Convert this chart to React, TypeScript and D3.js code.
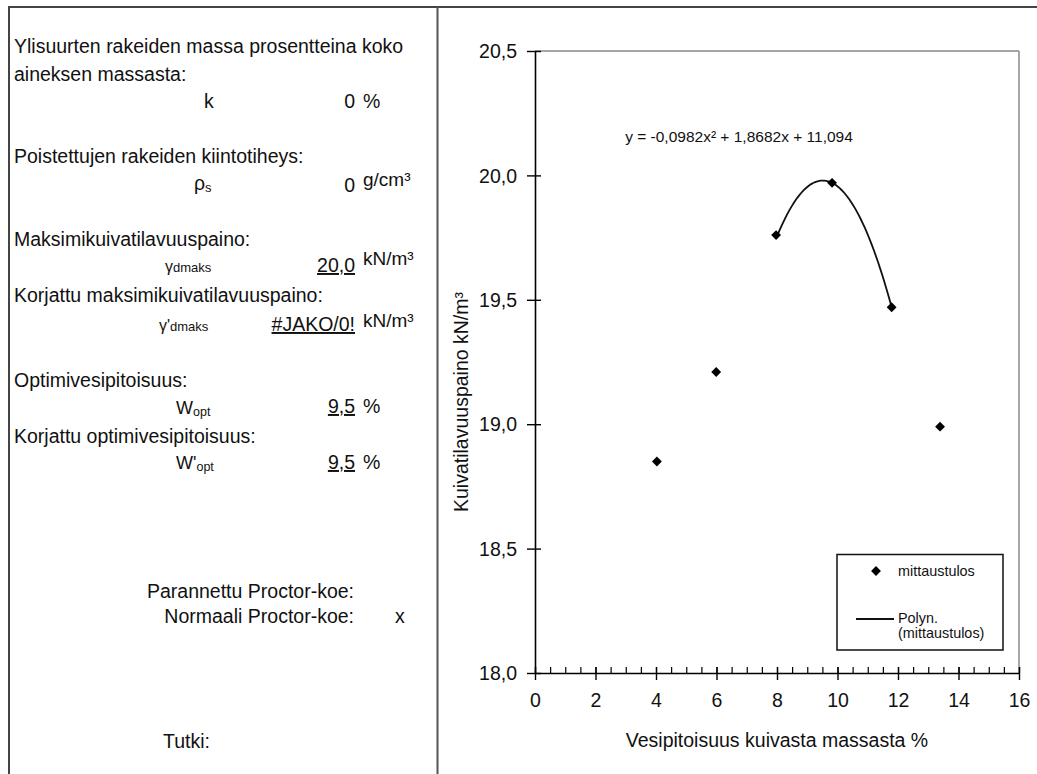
import React, { useEffect, useRef } from 'react';
import * as d3 from 'd3';

// measured points (water content %, dry density kN/m3)
const waterContent = [4.03, 5.99, 7.97, 9.82, 11.79, 13.39];
const dryDensity = [18.85, 19.21, 19.76, 19.97, 19.47, 18.99];

// polynomial trendline y = a x^2 + b x + c, fitted over these x values
const trendCoef = [-0.0982, 1.8682, 11.094];
const trendRange = [7.97, 11.79];
const equationText = 'y = -0,0982x² + 1,8682x + 11,094';

const xTicks = [0, 2, 4, 6, 8, 10, 12, 14, 16];
const xMinorTicks = d3.range(0, 16.01, 0.5);
const yTicks = [18.0, 18.5, 19.0, 19.5, 20.0, 20.5];

const seriesName = 'mittaustulos';
const trendName = ['Polyn.', '(mittaustulos)'];
const xTitle = 'Vesipitoisuus kuivasta massasta %';
const yTitle = 'Kuivatilavuuspaino kN/m³';

const FONT = '"Liberation Sans", Arial, sans-serif';
const W = 1037;
const H = 774;
const plot = { left: 535, right: 1019, top: 51, bottom: 673 };

const commaFmt = (d: number) => d3.format('.1f')(d).replace('.', ',');

const App = () => {
  const xAxisRef = useRef<SVGGElement>(null);
  const xMinorRef = useRef<SVGGElement>(null);
  const yAxisRef = useRef<SVGGElement>(null);

  const x = d3.scaleLinear().domain([0, 16]).range([plot.left, plot.right]);
  const y = d3.scaleLinear().domain([18, 20.5]).range([plot.bottom, plot.top]);

  useEffect(() => {
    // y axis with ticks crossing the line
    const yAxis = d3.axisLeft(y).tickValues(yTicks).tickFormat(commaFmt as any).tickSizeOuter(0);
    const gy = d3.select(yAxisRef.current!);
    gy.call(yAxis);
    gy.select('.domain').attr('stroke', '#000').attr('stroke-width', 1.6);
    gy.selectAll('.tick line').attr('x1', 6).attr('x2', -8).attr('stroke', '#000').attr('stroke-width', 1.4);
    gy.selectAll('.tick text')
      .attr('x', -18)
      .attr('dy', '0.34em')
      .attr('font-size', 19.5)
      .attr('font-family', FONT)
      .attr('fill', '#111');

    // minor x ticks pointing up
    const xMinor = d3.axisBottom(x).tickValues(xMinorTicks).tickFormat(() => '').tickSizeOuter(0);
    const gm = d3.select(xMinorRef.current!);
    gm.call(xMinor);
    gm.select('.domain').remove();
    gm.selectAll('.tick line').attr('y1', 0).attr('y2', -6).attr('stroke', '#000').attr('stroke-width', 1.2);

    // major x ticks crossing
    const xAxis = d3.axisBottom(x).tickValues(xTicks).tickFormat(d3.format('d') as any).tickSizeOuter(0);
    const gx = d3.select(xAxisRef.current!);
    gx.call(xAxis);
    gx.select('.domain').attr('stroke', '#000').attr('stroke-width', 1.6);
    gx.selectAll('.tick line').attr('y1', -6).attr('y2', 7).attr('stroke', '#000').attr('stroke-width', 1.4);
    gx.selectAll('.tick text')
      .attr('y', 20)
      .attr('dy', '0.71em')
      .attr('font-size', 19.5)
      .attr('font-family', FONT)
      .attr('fill', '#111');
  }, []);

  const points = waterContent.map((w, i) => [w, dryDensity[i]]);
  const trendX = d3.range(trendRange[0], trendRange[1] + 0.0001, (trendRange[1] - trendRange[0]) / 60);
  const trendPts = trendX.map(v => [v, trendCoef[0] * v * v + trendCoef[1] * v + trendCoef[2]]);
  const line = d3.line<number[]>().x(d => x(d[0])).y(d => y(d[1]));
  const diamond = d3.symbol().type(d3.symbolDiamond2).size(62)();

  const t = { fontFamily: FONT, fill: '#111' };
  const big = { ...t, fontSize: 19.5 };
  const unit = { ...t, fontSize: 19 };
  const ul = { textDecoration: 'underline' };

  return (
    <svg width={W} height={H} style={{ position: 'absolute', left: 0, top: 0, background: '#fff' }}>
      <rect x={0} y={0} width={W} height={H} fill="#fff" />
      {/* frame */}
      <line x1={8} x2={W} y1={7} y2={7} stroke="#444" strokeWidth={2} />
      <line x1={9} x2={9} y1={7} y2={H} stroke="#444" strokeWidth={2} />
      <line x1={437.5} x2={437.5} y1={7} y2={H} stroke="#555" strokeWidth={2} />

      {/* left panel */}
      <text x={14} y={53} style={big}>Ylisuurten rakeiden massa prosentteina koko</text>
      <text x={14} y={81} style={big}>aineksen massasta:</text>
      <text x={204} y={108} style={big}>k</text>
      <text x={355} y={108} textAnchor="end" style={big}>0</text>
      <text x={363} y={108} style={big}>%</text>

      <text x={14} y={163} style={big}>Poistettujen rakeiden kiintotiheys:</text>
      <text x={194} y={190} style={big}>ρ<tspan fontSize={13} dy={2}>s</tspan></text>
      <text x={355} y={192} textAnchor="end" style={big}>0</text>
      <text x={363} y={186} style={unit}>g/cm³</text>

      <text x={14} y={246} style={big}>Maksimikuivatilavuuspaino:</text>
      <text x={165} y={272} style={{ ...t, fontSize: 16 }}>γ<tspan fontSize={13}>dmaks</tspan></text>
      <text x={355} y={272} textAnchor="end" style={{ ...big, ...ul }}>20,0</text>
      <text x={363} y={265} style={unit}>kN/m³</text>

      <text x={14} y={301.5} style={big}>Korjattu maksimikuivatilavuuspaino:</text>
      <text x={159} y={331} style={{ ...t, fontSize: 16 }}>γ'<tspan fontSize={13}>dmaks</tspan></text>
      <text x={355} y={331} textAnchor="end" style={{ ...big, ...ul }}>#JAKO/0!</text>
      <text x={363} y={327} style={unit}>kN/m³</text>

      <text x={14} y={387} style={big}>Optimivesipitoisuus:</text>
      <text x={176} y={414} style={{ ...t, fontSize: 18 }}>W<tspan fontSize={12.5} dy={2}>opt</tspan></text>
      <text x={355} y={413} textAnchor="end" style={{ ...big, ...ul }}>9,5</text>
      <text x={363} y={413} style={big}>%</text>

      <text x={14} y={443} style={big}>Korjattu optimivesipitoisuus:</text>
      <text x={176} y={469} style={{ ...t, fontSize: 18 }}>W'<tspan fontSize={12.5} dy={2}>opt</tspan></text>
      <text x={355} y={469} textAnchor="end" style={{ ...big, ...ul }}>9,5</text>
      <text x={363} y={469} style={big}>%</text>

      <text x={354} y={598} textAnchor="end" style={big}>Parannettu Proctor-koe:</text>
      <text x={354} y={622.5} textAnchor="end" style={big}>Normaali Proctor-koe:</text>
      <text x={395} y={622.5} style={big}>x</text>
      <text x={163} y={748} style={big}>Tutki:</text>

      {/* plot area border */}
      <line x1={plot.left} x2={plot.right} y1={plot.top} y2={plot.top} stroke="#888" strokeWidth={1.5} />
      <line x1={plot.right} x2={plot.right} y1={plot.top} y2={plot.bottom} stroke="#888" strokeWidth={1.5} />

      <g ref={xMinorRef} transform={`translate(0,${plot.bottom})`} />
      <g ref={xAxisRef} transform={`translate(0,${plot.bottom})`} />
      <g ref={yAxisRef} transform={`translate(${plot.left},0)`} />

      {/* trendline */}
      <path d={line(trendPts) || ''} fill="none" stroke="#111" strokeWidth={1.8} />
      {points.map((p, i) => (
        <path key={i} d={diamond || ''} transform={`translate(${x(p[0])},${y(p[1])})`} fill="#000" />
      ))}

      <text x={739} y={142} textAnchor="middle" style={{ ...t, fontSize: 15.5 }}>{equationText}</text>

      {/* legend */}
      <rect x={837} y={554.5} width={166} height={95.5} fill="#fff" stroke="#111" strokeWidth={1.5} />
      <path d={diamond || ''} transform="translate(876,571)" fill="#000" />
      <text x={898} y={576} style={{ ...t, fontSize: 14.4 }}>{seriesName}</text>
      <line x1={856} x2={894} y1={619} y2={619} stroke="#111" strokeWidth={1.8} />
      <text x={898} y={623} style={{ ...t, fontSize: 14.4 }}>{trendName[0]}</text>
      <text x={898} y={638} style={{ ...t, fontSize: 14.4 }}>{trendName[1]}</text>

      {/* axis titles */}
      <text x={777} y={747} textAnchor="middle" style={big}>{xTitle}</text>
      <text transform="translate(468,402) rotate(-90)" textAnchor="middle" style={big}>{yTitle}</text>
    </svg>
  );
};

export default App;
